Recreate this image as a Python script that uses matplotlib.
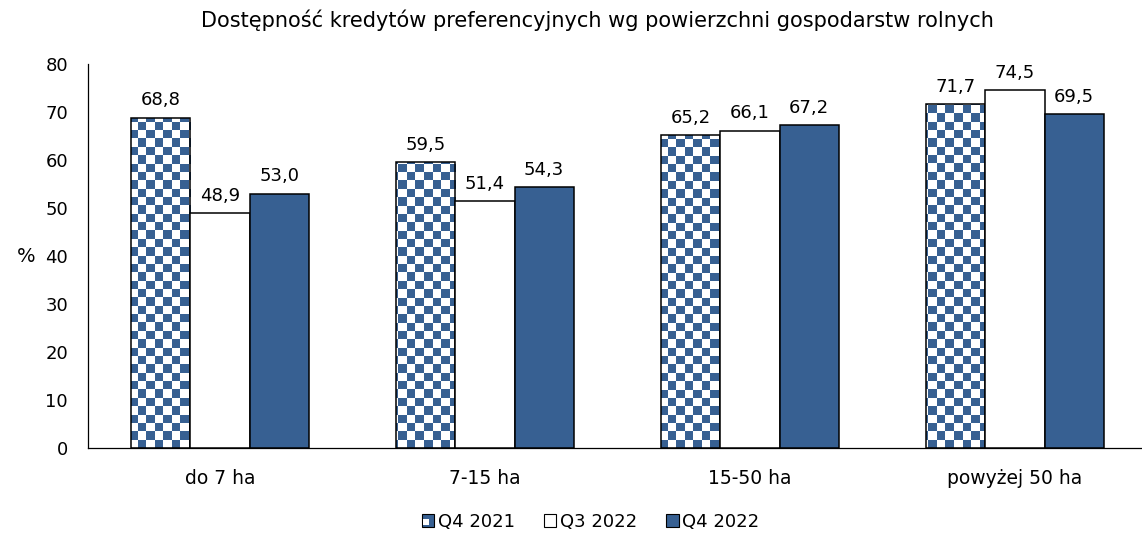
import matplotlib
matplotlib.use("Agg")
import matplotlib.pyplot as plt
import numpy as np
from matplotlib.patches import Rectangle
from matplotlib.legend_handler import HandlerBase

categories = ["do 7 ha", "7-15 ha", "15-50 ha", "powyżej 50 ha"]
series_names = ["Q4 2021", "Q3 2022", "Q4 2022"]
q4_2021 = [68.8, 59.5, 65.2, 71.7]
q3_2022 = [48.9, 51.4, 66.1, 74.5]
q4_2022 = [53.0, 54.3, 67.2, 69.5]

BLUE = "#376092"
plt.rcParams['font.family'] = ['DejaVu Sans']


class CheckerHandler(HandlerBase):
    # small legend square: blue with a white corner, like a checker tile
    def create_artists(self, legend, orig_handle, xdescent, ydescent,
                       width, height, fontsize, trans):
        s = height
        x0 = (width - s) / 2 - xdescent
        y0 = -ydescent
        back = Rectangle((x0, y0), s, s, facecolor=BLUE, edgecolor="black",
                         linewidth=0.8, transform=trans)
        corner = Rectangle((x0 + s * 0.15, y0 + s * 0.15), s * 0.45, s * 0.45,
                           facecolor="white", edgecolor="none", transform=trans)
        return [back, corner]


class SquareHandler(HandlerBase):
    def create_artists(self, legend, orig_handle, xdescent, ydescent,
                       width, height, fontsize, trans):
        s = height
        x0 = (width - s) / 2 - xdescent
        r = Rectangle((x0, -ydescent), s, s, facecolor=orig_handle.get_facecolor(),
                      edgecolor="black", linewidth=0.8, transform=trans)
        return [r]


fig = plt.figure(figsize=(11.42, 5.42), dpi=100)
ax = fig.add_axes([87.5 / 1142, 94 / 542, 1060 / 1142, 384 / 542])

x = np.arange(len(categories))
w = 0.223
ymax = 80

b1 = ax.bar(x - w, q4_2021, w, facecolor="white", edgecolor="black", linewidth=1.1, zorder=3)
b2 = ax.bar(x, q3_2022, w, facecolor="white", edgecolor="black", linewidth=1.1, zorder=3)
b3 = ax.bar(x + w, q4_2022, w, facecolor=BLUE, edgecolor="black", linewidth=1.1, zorder=3)

# checkerboard fill for the first series, clipped to each bar
nx, ny = 126, 46
checker = (np.add.outer(np.arange(ny), np.arange(nx)) % 2).astype(float)
cmap = matplotlib.colors.ListedColormap(["white", BLUE])
for bar in b1:
    im = ax.imshow(checker, cmap=cmap, extent=(-0.5, 3.5, 0, ymax),
                   aspect="auto", interpolation="nearest", zorder=2.5, origin="upper")
    im.set_clip_path(bar)
    bar.set_facecolor("none")

for bars, vals in [(b1, q4_2021), (b2, q3_2022), (b3, q4_2022)]:
    for bar, v in zip(bars, vals):
        ax.annotate(f"{v:.1f}".replace(".", ","),
                    (bar.get_x() + bar.get_width() / 2, v),
                    xytext=(0, 6), textcoords="offset points",
                    ha="center", va="bottom", fontsize=13)

ax.set_xlim(-0.5, 3.5)
ax.set_ylim(0, ymax)
ax.set_yticks(range(0, 81, 10))
ax.set_xticks(x)
ax.set_xticklabels(categories, fontsize=13.5)
ax.tick_params(axis="both", length=0)
ax.tick_params(axis="y", pad=14, labelsize=13)
ax.tick_params(axis="x", pad=15)
for side in ["top", "right"]:
    ax.spines[side].set_visible(False)
for side in ["left", "bottom"]:
    ax.spines[side].set_linewidth(0.9)
ax.set_ylabel("%", rotation=0, fontsize=14, labelpad=14, va="center")

fig.text(0.523, 0.963, "Dostępność kredytów preferencyjnych wg powierzchni gospodarstw rolnych",
         ha="center", va="center", fontsize=15)

h1 = Rectangle((0, 0), 1, 1, facecolor=BLUE)
h2 = Rectangle((0, 0), 1, 1, facecolor="white")
h3 = Rectangle((0, 0), 1, 1, facecolor=BLUE)
fig.legend([h1, h2, h3], series_names, loc="center", bbox_to_anchor=(0.517, 0.037),
           ncol=3, frameon=False, fontsize=13, handlelength=0.7, handleheight=0.7,
           handletextpad=0.2, columnspacing=1.6,
           handler_map={h1: CheckerHandler(), h2: SquareHandler(), h3: SquareHandler()})

fig.savefig("out.png", dpi=100)
